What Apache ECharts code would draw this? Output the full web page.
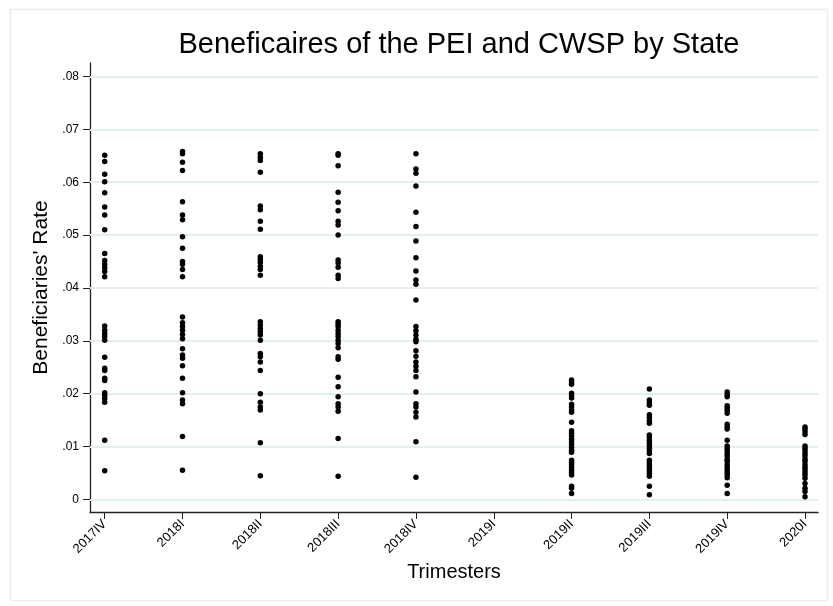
<!DOCTYPE html>
<html>
<head>
<meta charset="utf-8">
<script src="https://cdn.jsdelivr.net/npm/echarts@6/dist/echarts.min.js"></script>
<style>
html,body{margin:0;padding:0;background:#fff;}
#c{width:833px;height:606px;}
</style>
</head>
<body>
<div id="c"></div>
<script>
const categories = ["2017IV","2018I","2018II","2018III","2018IV","2019I","2019II","2019III","2019IV","2020I"];
const q2017IV = [.0651,.0639,.0615,.0601,.0580,.0553,.0538,.0510,.0465,.0452,.0445,.0438,.0431,.0421,.0328,.0320,.0314,.0308,.0301,.0269,.0248,.0244,.0229,.0225,.0202,.0197,.0191,.0184,.0112,.0054];
const q2018I = [.0658,.0654,.0638,.0622,.0563,.0538,.0529,.0497,.0475,.0450,.0445,.0435,.0421,.0345,.0334,.0327,.0320,.0312,.0304,.0285,.0273,.0267,.0253,.0229,.0202,.0188,.0181,.0119,.0055];
const q2018II = [.0654,.0647,.0641,.0619,.0555,.0548,.0526,.0511,.0459,.0454,.0448,.0441,.0435,.0424,.0336,.0330,.0323,.0317,.0311,.0301,.0276,.0270,.0260,.0244,.0200,.0184,.0175,.0169,.0107,.0045];
const q2018III = [.0654,.0651,.0631,.0581,.0562,.0546,.0526,.0519,.0500,.0453,.0447,.0439,.0424,.0418,.0336,.0332,.0327,.0320,.0314,.0308,.0301,.0295,.0287,.0270,.0265,.0231,.0213,.0194,.0181,.0175,.0167,.0115,.0044];
const q2018IV = [.0654,.0625,.0617,.0593,.0543,.0516,.0489,.0457,.0432,.0415,.0407,.0377,.0327,.0319,.0311,.0303,.0298,.0281,.0271,.0260,.0252,.0244,.0232,.0203,.0181,.0175,.0165,.0156,.0109,.0042];
const q2019I = [];
const q2019II = [.0226,.0222,.0218,.0201,.0196,.0192,.0180,.0175,.0169,.0165,.0146,.0130,.0125,.0120,.0114,.0109,.0104,.0098,.0093,.0089,.0074,.0070,.0065,.0060,.0055,.0051,.0046,.0025,.0021,.0011];
const q2019III = [.0209,.0188,.0183,.0178,.0160,.0155,.0149,.0144,.0122,.0117,.0112,.0107,.0102,.0097,.0092,.0087,.0074,.0069,.0064,.0059,.0054,.0049,.0044,.0025,.0009];
const q2019IV = [.0203,.0198,.0194,.0177,.0173,.0168,.0163,.0142,.0137,.0133,.0112,.0101,.0097,.0092,.0087,.0082,.0076,.0072,.0066,.0061,.0056,.0051,.0046,.0041,.0027,.0011];
const q2020I = [.0137,.0133,.0128,.0123,.0101,.0097,.0092,.0087,.0082,.0076,.0072,.0066,.0061,.0056,.0051,.0046,.0040,.0030,.0021,.0015,.0005];
const columns = [q2017IV,q2018I,q2018II,q2018III,q2018IV,q2019I,q2019II,q2019III,q2019IV,q2020I];
const yTicks = [0,.01,.02,.03,.04,.05,.06,.07,.08];
const yTickLabels = ["0",".01",".02",".03",".04",".05",".06",".07",".08"];
const xTicks = [0,1,2,3,4,5,6,7,8,9];

const points = [];
columns.forEach((col, i) => col.forEach(v => points.push([i, v])));

const FONT = '"Liberation Sans", Arial, Helvetica, sans-serif';
const chart = echarts.init(document.getElementById('c'), null, {renderer:'canvas'});
chart.setOption({
  backgroundColor: '#fff',
  animation: false,
  graphic: [{
    type: 'rect', left: 8, top: 7, z: -10,
    shape: {width: 817, height: 591},
    style: {fill: 'none', stroke: '#e9edf0', lineWidth: 1.5}
  }],
  title: {
    text: 'Beneficaires of the PEI and CWSP by State',
    left: 454, top: 25, textAlign: 'center',
    textStyle: {fontFamily: FONT, fontSize: 29, fontWeight: 'normal', color: '#000'}
  },
  grid: {left: 90, right: 15, top: 63, bottom: 94},
  xAxis: {
    type: 'value', min: -0.189, max: 9.167,
    name: 'Trimesters', nameLocation: 'middle', nameGap: 50,
    nameTextStyle: {fontFamily: FONT, fontSize: 20, color: '#000'},
    axisLine: {show: true, onZero: false, lineStyle: {color: '#222', width: 1.3}},
    axisTick: {show: true, customValues: xTicks, length: 7, lineStyle: {color: '#222'}},
    axisLabel: {
      customValues: xTicks, rotate: 45, margin: 10,
      fontFamily: FONT, fontSize: 13, color: '#000',
      formatter: v => categories[Math.round(v)]
    },
    splitLine: {show: false}
  },
  yAxis: {
    type: 'value', min: -0.00238, max: 0.08255,
    name: "Beneficiaries' Rate", nameLocation: 'middle', nameGap: 34,
    nameTextStyle: {fontFamily: FONT, fontSize: 21, color: '#000'},
    axisLine: {show: true, onZero: false, lineStyle: {color: '#222', width: 1.3}},
    axisTick: {show: true, customValues: yTicks, length: 7, lineStyle: {color: '#222'}},
    axisLabel: {
      customValues: yTicks, margin: 11,
      fontFamily: FONT, fontSize: 12, color: '#000',
      formatter: v => yTickLabels[yTicks.indexOf(v)]
    },
    splitLine: {show: false}
  },
  series: [
    {
      type: 'line', data: [], z: 1, silent: true,
      markLine: {
        silent: true, symbol: ['none','none'], label: {show: false},
        lineStyle: {color: '#e4edf0', width: 1.8, type: 'solid'},
        data: yTicks.map(v => ({yAxis: v}))
      }
    },
    {
      type: 'scatter', z: 5, symbol: 'circle', symbolSize: 5.5,
      itemStyle: {color: '#000', opacity: 1},
      data: points
    }
  ]
});
</script>
</body>
</html>
